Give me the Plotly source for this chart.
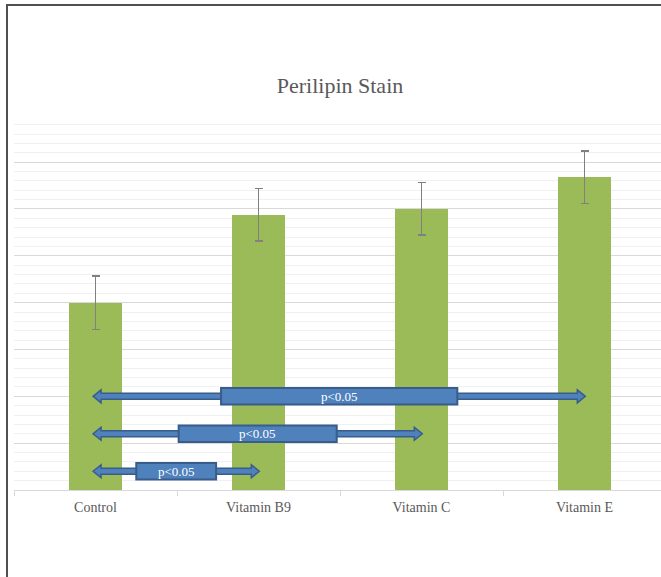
import plotly.graph_objects as go

# ---- data ----
categories = ["Control", "Vitamin B9", "Vitamin C", "Vitamin E"]
values = [20.0, 29.4, 30.0, 33.4]
errors = [2.85, 2.8, 2.8, 2.8]
# comparisons: (from index, to index, level on y, label)
comp_from = [0, 0, 0]
comp_to = [3, 2, 1]
comp_level = [10, 6, 2]
comp_label = ["p<0.05", "p<0.05", "p<0.05"]

# ---- layout geometry ----
W, H = 661, 577
ML, MR, MT, MB = 14, 0, 115, 87
px_per_cat = 163.0
plot_w = W - ML - MR
plot_h = H - MT - MB
y_max = 40.03
x_lo = -0.5
x_hi = x_lo + plot_w / px_per_cat
px_per_y = plot_h / y_max

GREEN = "#9BBB59"
BLUE = "#4F81BD"
DBLUE = "#385D8A"
GRAY_TXT = "#595959"
FONT = "Liberation Serif"

fig = go.Figure()
fig.add_trace(go.Bar(
    x=list(range(len(categories))), y=values,
    marker=dict(color=GREEN, line=dict(width=0)),
    width=0.32,
    error_y=dict(type="data", array=errors, visible=True,
                 color="#808080", thickness=1.5, width=4),
    showlegend=False,
))

shapes = []
annotations = []
hl = 8 / px_per_cat          # arrow head length (x units)
sh = 3 / px_per_y            # shaft half-thickness
hh = 6.5 / px_per_y          # head half-height
bh = 8.3 / px_per_y          # box half-height
for a, b, lv, lab in zip(comp_from, comp_to, comp_level, comp_label):
    x0, x1 = a - 0.015, b + 0.005
    y = lv
    path = (f"M {x0},{y} L {x0+hl},{y+hh} L {x0+hl},{y+sh} L {x1-hl},{y+sh} "
            f"L {x1-hl},{y+hh} L {x1},{y} L {x1-hl},{y-hh} L {x1-hl},{y-sh} "
            f"L {x0+hl},{y-sh} L {x0+hl},{y-hh} Z")
    shapes.append(dict(type="path", path=path, xref="x", yref="y",
                       fillcolor=BLUE, line=dict(color=DBLUE, width=1.5), layer="above"))
    cx = (x0 + x1) / 2
    half = 0.24 * (x1 - x0)
    shapes.append(dict(type="rect", xref="x", yref="y",
                       x0=cx - half, x1=cx + half, y0=y - bh, y1=y + bh,
                       fillcolor=BLUE, line=dict(color=DBLUE, width=2), layer="above"))
    annotations.append(dict(x=cx, y=y, xref="x", yref="y", text=lab, showarrow=False,
                            font=dict(family=FONT, size=13, color="white")))

# outer frame (left and top edges visible)
shapes.append(dict(type="rect", xref="paper", yref="paper",
                   x0=(7 - ML) / plot_w, x1=1.1,
                   y0=-0.6, y1=(H - MB - 5) / plot_h,
                   line=dict(color="#505050", width=2), fillcolor="rgba(0,0,0,0)", layer="above"))

fig.update_layout(
    width=W, height=H,
    margin=dict(l=ML, r=MR, t=MT, b=MB, pad=0),
    paper_bgcolor="white", plot_bgcolor="white",
    title=dict(text="Perilipin Stain", x=(276 + 404) / 2 / W, xanchor="center",
               y=1 - 85 / H, yanchor="middle", yref="container",
               font=dict(family=FONT, size=22, color=GRAY_TXT)),
    shapes=shapes, annotations=annotations,
    bargap=0,
)
fig.update_xaxes(
    range=[x_lo, x_hi], tickvals=list(range(len(categories))), ticktext=categories,
    ticks="", showgrid=False, zeroline=False,
    showline=True, linecolor="#d9d9d9", linewidth=1,
    tickfont=dict(family=FONT, size=14, color=GRAY_TXT),
    ticklabelstandoff=4,
    minor=dict(tick0=-0.5, dtick=1, ticks="outside", ticklen=5, tickcolor="#d9d9d9", showgrid=False),
)
fig.update_yaxes(
    range=[0, y_max], dtick=5, showticklabels=False, ticks="",
    showgrid=True, gridcolor="#d9d9d9", gridwidth=1, zeroline=False,
    minor=dict(dtick=1, showgrid=True, gridcolor="#f0f0f0", gridwidth=1),
)

fig.write_html("out.html")
